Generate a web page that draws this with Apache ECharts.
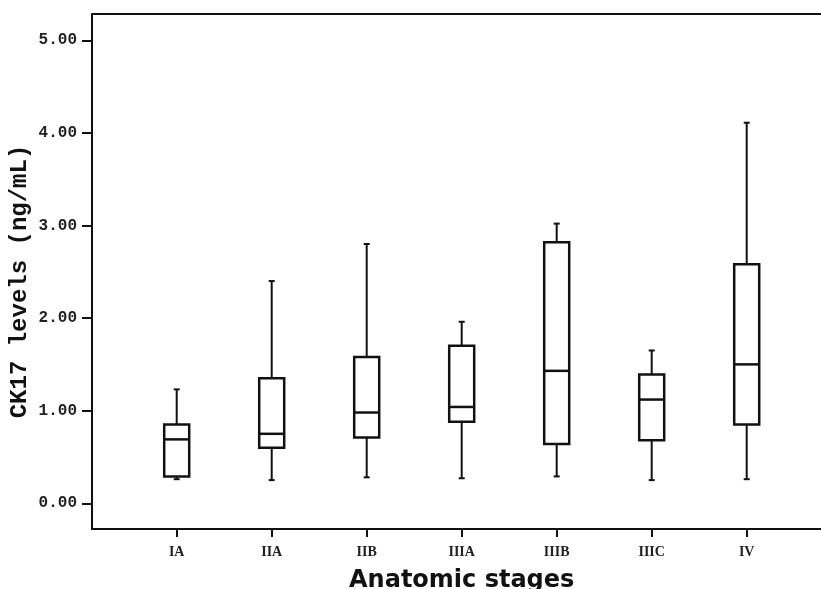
<!DOCTYPE html>
<html>
<head>
<meta charset="utf-8">
<script src="https://cdn.jsdelivr.net/npm/echarts@6/dist/echarts.min.js"></script>
<style>
  html, body { margin: 0; padding: 0; background: #fff; }
  #chart { width: 821px; height: 589px; }
</style>
</head>
<body>
<div id="chart"></div>
<script>
// values
const stages = ['IA', 'IIA', 'IIB', 'IIIA', 'IIIB', 'IIIC', 'IV'];
const whiskerLow = [0.26, 0.25, 0.28, 0.27, 0.29, 0.25, 0.26];
const q1 = [0.29, 0.60, 0.71, 0.88, 0.64, 0.68, 0.85];
const medians = [0.69, 0.75, 0.98, 1.04, 1.43, 1.12, 1.50];
const q3 = [0.85, 1.35, 1.58, 1.70, 2.82, 1.39, 2.58];
const whiskerHigh = [1.23, 2.40, 2.80, 1.96, 3.02, 1.65, 4.11];
const yTicks = [0, 1, 2, 3, 4, 5];

const Y_MIN = -0.278;
const Y_MAX = 5.284;
const INK = '#111';

const chart = echarts.init(document.getElementById('chart'));

const boxData = stages.map((s, i) => [i, whiskerLow[i], q1[i], medians[i], q3[i], whiskerHigh[i]]);

function renderBox(params, api) {
    const idx = api.value(0);
    const x = api.coord([idx, 0])[0];
    const y = k => api.coord([idx, api.value(k)])[1];
    const yLow = y(1), yQ1 = y(2), yMed = y(3), yQ3 = y(4), yHigh = y(5);
    const half = 12.5;
    const cap = 3;
    const st = { stroke: INK, lineWidth: 2 };
    return {
        type: 'group',
        children: [
            { type: 'line', shape: { x1: x, y1: yLow, x2: x, y2: yQ1 }, style: st },
            { type: 'line', shape: { x1: x, y1: yQ3, x2: x, y2: yHigh }, style: st },
            { type: 'line', shape: { x1: x - cap, y1: yLow, x2: x + cap, y2: yLow }, style: st },
            { type: 'line', shape: { x1: x - cap, y1: yHigh, x2: x + cap, y2: yHigh }, style: st },
            { type: 'rect', shape: { x: x - half, y: yQ3, width: half * 2, height: yQ1 - yQ3 },
              style: { fill: '#fff', stroke: INK, lineWidth: 2.5 } },
            { type: 'line', shape: { x1: x - half, y1: yMed, x2: x + half, y2: yMed }, style: { stroke: INK, lineWidth: 2.5 } }
        ]
    };
}

const option = {
    animation: false,
    backgroundColor: '#fff',
    grid: [
        // frame (left, top, bottom lines)
        { left: 92, right: -10, top: 14, bottom: 60, outerBoundsMode: 'none' },
        // boxes, placed so the category centres line up
        { left: 129.2, right: 26.8, top: 14, bottom: 60, outerBoundsMode: 'none' }
    ],
    xAxis: [
        {
            type: 'value', gridIndex: 0, position: 'bottom', min: 0, max: 1,
            axisLine: { show: true, onZero: false, lineStyle: { color: INK, width: 2 } },
            axisTick: { show: false }, axisLabel: { show: false }, splitLine: { show: false }
        },
        {
            type: 'value', gridIndex: 0, position: 'top', min: 0, max: 1,
            axisLine: { show: true, onZero: false, lineStyle: { color: INK, width: 2 } },
            axisTick: { show: false }, axisLabel: { show: false }, splitLine: { show: false }
        },
        {
            type: 'category', gridIndex: 1, data: stages, position: 'bottom',
            axisLine: { show: false, onZero: false },
            axisTick: { show: true, alignWithLabel: true, length: 8, lineStyle: { color: INK, width: 2 } },
            axisLabel: {
                margin: 16, color: '#222', fontFamily: 'Liberation Serif', fontWeight: 'bold', fontSize: 14
            },
            name: 'Anatomic stages',
            nameLocation: 'middle',
            nameGap: 40,
            nameMoveOverlap: false,
            nameTextStyle: { fontFamily: 'DejaVu Sans', fontWeight: 'bold', fontSize: 24, color: '#111' }
        }
    ],
    yAxis: [
        {
            type: 'value', gridIndex: 0, min: Y_MIN, max: Y_MAX,
            axisLine: { show: true, onZero: false, lineStyle: { color: INK, width: 2 } },
            axisTick: { show: true, length: 10, customValues: yTicks, lineStyle: { color: INK, width: 2 } },
            axisLabel: {
                customValues: yTicks,
                formatter: v => v.toFixed(2),
                margin: 15, color: '#222',
                fontFamily: 'Liberation Mono', fontWeight: 'bold', fontSize: 16
            },
            splitLine: { show: false },
            name: 'CK17 levels (ng/mL)',
            nameLocation: 'middle',
            nameRotate: 90,
            nameGap: 60,
            nameMoveOverlap: false,
            nameTextStyle: {
                fontFamily: 'Liberation Mono', fontWeight: 'bold', fontSize: 24, color: '#111',
                padding: [0, 20, 0, 0]
            }
        },
        {
            type: 'value', gridIndex: 1, min: Y_MIN, max: Y_MAX, show: false
        }
    ],
    series: [
        {
            type: 'custom',
            xAxisIndex: 2,
            yAxisIndex: 1,
            renderItem: renderBox,
            encode: { x: 0, y: [1, 2, 3, 4, 5] },
            data: boxData,
            z: 5
        }
    ]
};

chart.setOption(option);
window.addEventListener('resize', chart.resize);
</script>
</body>
</html>
